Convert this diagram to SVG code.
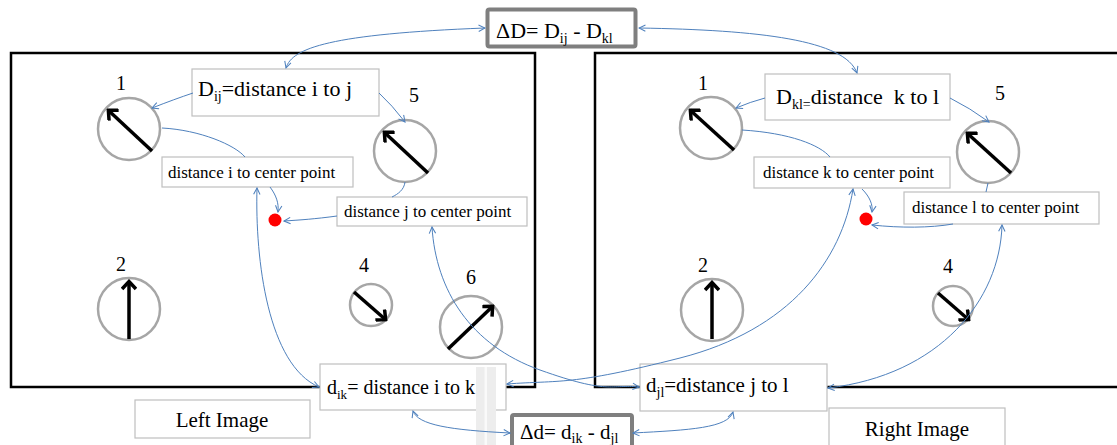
<svg xmlns="http://www.w3.org/2000/svg" width="1117" height="445" viewBox="0 0 1117 445">
<defs>
<marker id="ba" viewBox="0 0 10 10" refX="9" refY="5" markerWidth="8" markerHeight="8" markerUnits="userSpaceOnUse" orient="auto-start-reverse">
<path d="M1,1 L9,5 L1,9" fill="none" stroke="#4F81BD" stroke-width="1.3"/>
</marker>
<marker id="ka" viewBox="-10 -8 12 16" refX="0" refY="0" markerWidth="12" markerHeight="16" markerUnits="userSpaceOnUse" orient="auto">
<path d="M-8,-7 L-0.5,0 L-8,7" fill="none" stroke="#000" stroke-width="3.5"/>
</marker>
</defs>
<style>
.t{font-family:"Liberation Serif","Times New Roman",serif;fill:#000;white-space:pre}
.box{fill:#fff;stroke:#BFBFBF;stroke-width:1.2}
.frame{fill:none;stroke:#000;stroke-width:2.5}
.dial{fill:#fff;stroke:#A6A6A6;stroke-width:2.5}
.needle{stroke:#000;stroke-width:3.5;marker-end:url(#ka)}
.c{fill:none;stroke:#4F81BD;stroke-width:1}
.c1{marker-end:url(#ba)}
.c2{marker-start:url(#ba);marker-end:url(#ba)}
.dot{fill:#FF0000}
.lab{font-size:20px;text-anchor:middle}
.sm{font-size:17px}
.big{font-size:22px}
</style>

<g id="left-image-frame"><rect class="frame" x="11" y="53" width="524" height="334"/></g>
<g id="right-image-frame"><rect class="frame" x="595" y="53" width="532" height="334"/></g>

<g id="delta-D"><rect x="487.5" y="9.5" width="148" height="37" rx="2" fill="#fff" stroke="#7F7F7F" stroke-width="4"/>
<text class="t big" x="496" y="38">ΔD= D<tspan font-size="14" dy="5">ij</tspan><tspan dy="-5"> - D</tspan><tspan font-size="14" dy="5">kl</tspan></text></g>

<g id="D-ij"><rect class="box" x="192" y="69" width="187" height="47"/>
<text class="t big" x="198" y="96">D<tspan font-size="14" dy="5">ij</tspan><tspan dy="-5">=distance i to j</tspan></text></g>

<g id="dist-i-center"><rect class="box" x="162" y="157" width="191" height="30"/>
<text class="t sm" x="168" y="178">distance i to center point</text></g>

<g id="dist-j-center"><rect class="box" x="337" y="197" width="190" height="29"/>
<text class="t sm" x="344" y="217">distance j to center point</text></g>

<g id="d-ik"><rect class="box" x="320" y="364" width="186" height="46"/>
<rect x="476" y="367" width="20" height="78" fill="#EDEDED"/><rect x="484.5" y="367" width="2.5" height="78" fill="#FAFAFA"/>
<text class="t" font-size="20" x="327" y="394">d<tspan font-size="13" dy="5">ik</tspan><tspan dy="-5">= distance i to k</tspan></text></g>

<g id="left-image-label"><rect class="box" x="135" y="400" width="175" height="38"/>
<text class="t" font-size="21" x="222" y="427" text-anchor="middle">Left Image</text></g>

<g id="delta-d"><rect x="512" y="415" width="120" height="40" rx="2" fill="#fff" stroke="#7F7F7F" stroke-width="4"/>
<text class="t" font-size="21" x="520" y="439">Δd= d<tspan font-size="14" dy="4">ik</tspan><tspan dy="-4"> - d</tspan><tspan font-size="14" dy="4">jl</tspan></text></g>

<g id="d-jl"><rect class="box" x="640" y="364" width="187" height="47"/>
<text class="t" font-size="21" x="646" y="392">d<tspan font-size="14" dy="5">jl</tspan><tspan dy="-5">=distance j to l</tspan></text></g>

<g id="right-image-label"><rect class="box" x="829" y="408" width="176" height="45"/>
<text class="t" font-size="21" x="917" y="436" text-anchor="middle">Right Image</text></g>

<g id="D-kl"><rect class="box" x="765" y="74" width="185" height="46"/>
<text class="t big" x="776" y="104">D<tspan font-size="14" dy="5">kl=</tspan><tspan dy="-5">distance  k to l</tspan></text></g>

<g id="dist-k-center"><rect class="box" x="754" y="157" width="196" height="31"/>
<text class="t sm" x="763" y="178">distance k to center point</text></g>

<g id="dist-l-center"><rect class="box" x="904" y="192" width="195" height="32"/>
<text class="t sm" x="912" y="213">distance l to center point</text></g>

<g id="L1"><circle class="dial" cx="129" cy="129" r="31"/><line class="needle" x1="152" y1="151" x2="108" y2="110"/><text class="t lab" x="121" y="90">1</text></g>
<g id="L5"><circle class="dial" cx="405" cy="151" r="31"/><line class="needle" x1="428" y1="173" x2="384" y2="132"/><text class="t lab" x="414" y="102">5</text></g>
<g id="L2"><circle class="dial" cx="129" cy="309" r="31"/><line class="needle" x1="129" y1="339" x2="129" y2="281"/><text class="t lab" x="121" y="271">2</text></g>
<g id="L4"><circle class="dial" cx="371" cy="305" r="21"/><line class="needle" x1="354" y1="292" x2="386" y2="320"/><text class="t lab" x="364" y="272">4</text></g>
<g id="L6"><circle class="dial" cx="471" cy="327" r="31"/><line class="needle" x1="448" y1="349" x2="493" y2="306"/><text class="t lab" x="471" y="284">6</text></g>

<g id="R1"><circle class="dial" cx="711" cy="128" r="31"/><line class="needle" x1="734" y1="150" x2="690" y2="110"/><text class="t lab" x="703" y="90">1</text></g>
<g id="R5"><circle class="dial" cx="988" cy="152" r="31"/><line class="needle" x1="1011" y1="173" x2="967" y2="133"/><text class="t lab" x="1000" y="100">5</text></g>
<g id="R2"><circle class="dial" cx="712" cy="310" r="31"/><line class="needle" x1="712" y1="339" x2="712" y2="282"/><text class="t lab" x="703" y="272">2</text></g>
<g id="R4"><circle class="dial" cx="953" cy="306" r="20"/><line class="needle" x1="938" y1="293" x2="969" y2="320"/><text class="t lab" x="948" y="273">4</text></g>

<g id="center-left"><circle class="dot" cx="275" cy="220" r="6.5"/></g>
<g id="center-right"><circle class="dot" cx="866" cy="219" r="6.5"/></g>

<g id="connectors">
<path class="c c2" d="M286,68 C292,48 330,34 485,28"/>
<path class="c c2" d="M639,28 C760,30 845,40 857,73"/>
<path class="c c1" d="M193,93 Q175,99 152,108"/>
<path class="c c1" d="M379,93 Q392,105 405,122"/>
<path class="c" d="M162,128 C200,130 235,145 245,157"/>
<path class="c" d="M405,182 C404,190 398,194 392,197"/>
<path class="c c1" d="M270,187 C276,195 279,203 278,212"/>
<path class="c c1" d="M337,216 C315,219 300,220 284,221"/>
<path class="c c2" d="M257,188 C255,260 268,365 319,387"/>
<path class="c c2" d="M432,227 C436,290 470,345 540,370 S610,384 639,387"/>
<path class="c c2" d="M853,189 C842,260 790,330 680,358 S560,380 507,384"/>
<path class="c c1" d="M862,189 C870,197 873,205 872,212"/>
<path class="c c1" d="M953,224 C930,228 900,228 872,225"/>
<path class="c" d="M988,183 L986,192"/>
<path class="c c2" d="M1002,225 C1000,300 940,375 828,388"/>
<path class="c" d="M742,130 C790,133 820,145 830,157"/>
<path class="c c1" d="M765,98 Q750,102 736,108"/>
<path class="c c1" d="M950,98 Q970,108 989,122"/>
<path class="c c2" d="M413,411 C418,425 450,430 510,433"/>
<path class="c c2" d="M733,412 C728,428 690,430 633,433"/>
</g>
</svg>
